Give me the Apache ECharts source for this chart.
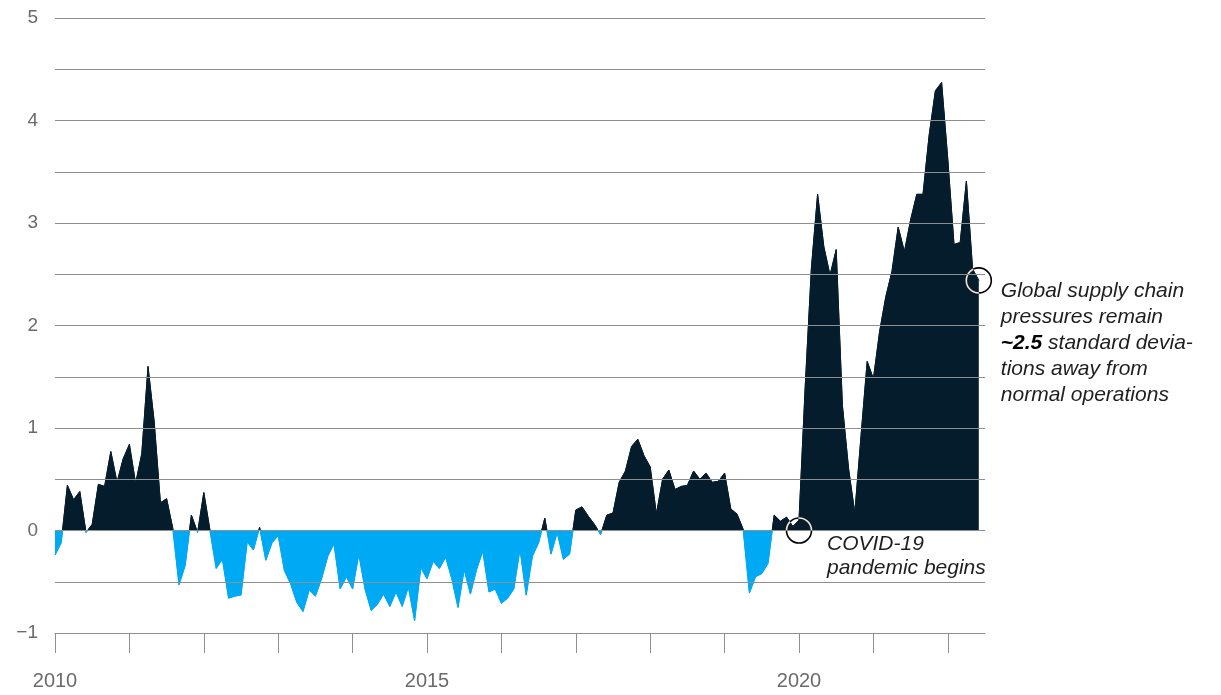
<!DOCTYPE html>
<html>
<head>
<meta charset="utf-8">
<script src="https://cdn.jsdelivr.net/npm/echarts@6/dist/echarts.min.js"></script>
<style>
  html, body { margin: 0; padding: 0; background: #fff; }
  #chart { width: 1221px; height: 695px; }
</style>
</head>
<body>
<div id="chart"></div>
<script>
// Global supply chain pressure index, monthly, standard deviations from average
const startYear = 2010;
const gscpi2010 = [-0.24, -0.12, 0.44, 0.30, 0.38, -0.02, 0.06, 0.45, 0.43, 0.77, 0.47, 0.70];
const gscpi2011 = [0.84, 0.46, 0.75, 1.60, 1.06, 0.27, 0.31, 0.02, -0.53, -0.34, 0.15, -0.02];
const gscpi2012 = [0.37, 0.00, -0.37, -0.28, -0.66, -0.64, -0.63, -0.11, -0.19, 0.03, -0.29, -0.12];
const gscpi2013 = [-0.05, -0.39, -0.52, -0.70, -0.79, -0.58, -0.64, -0.47, -0.25, -0.13, -0.57, -0.45];
const gscpi2014 = [-0.57, -0.23, -0.57, -0.78, -0.72, -0.62, -0.74, -0.60, -0.74, -0.55, -0.88, -0.36];
const gscpi2015 = [-0.47, -0.30, -0.37, -0.26, -0.47, -0.75, -0.38, -0.62, -0.38, -0.20, -0.60, -0.57];
const gscpi2016 = [-0.71, -0.66, -0.57, -0.18, -0.63, -0.25, -0.12, 0.12, -0.23, -0.02, -0.28, -0.23];
const gscpi2017 = [0.20, 0.23, 0.14, 0.06, -0.04, 0.15, 0.17, 0.47, 0.58, 0.82, 0.89, 0.73];
const gscpi2018 = [0.62, 0.16, 0.50, 0.59, 0.40, 0.43, 0.44, 0.58, 0.50, 0.56, 0.47, 0.48];
const gscpi2019 = [0.56, 0.21, 0.16, 0.01, -0.61, -0.45, -0.42, -0.32, 0.15, 0.09, 0.13, 0.04];
const gscpi2020 = [0.10, 1.40, 2.56, 3.28, 2.77, 2.49, 2.74, 1.22, 0.60, 0.17, 0.92, 1.65];
const gscpi2021 = [1.48, 1.94, 2.28, 2.53, 2.96, 2.72, 3.03, 3.28, 3.28, 3.86, 4.29, 4.37];
const gscpi2022 = [3.62, 2.79, 2.81, 3.41, 2.55, 2.44];

const yearLabels = ['2010', '2015', '2020'];
const yLabelValues = [-1, 0, 1, 2, 3, 4, 5];

const monthly = [].concat(
  gscpi2010, gscpi2011, gscpi2012, gscpi2013, gscpi2014, gscpi2015, gscpi2016,
  gscpi2017, gscpi2018, gscpi2019, gscpi2020, gscpi2021, gscpi2022
);
const points = monthly.map((v, i) => [i, v]);

// annotated months: Jan 2020 (pandemic start) and the latest reading
const covidMonth = (2020 - startYear) * 12;
const latestMonth = monthly.length - 1;

const DARK = '#051c2c';
const CYAN = '#00a9f4';
const GRID_GRAY = '#8f8f8f';
const LABEL_GRAY = '#6b6b6b';
const FONT = '"Liberation Sans", Arial, sans-serif';

const Y_MIN = -1, Y_MAX = 5, Y_STEP = 0.5;

const yearTicks = [];
for (let m = 0; m <= latestMonth; m += 12) yearTicks.push(m);
const yearLabelTicks = yearLabels.map(y => (Number(y) - startYear) * 12);

// horizontal rules at every half step, drawn above the filled areas
const ruleLines = [];
for (let v = Y_MIN; v <= Y_MAX + 1e-9; v += Y_STEP) ruleLines.push({ yAxis: +v.toFixed(2) });

const chart = echarts.init(document.getElementById('chart'), null, { renderer: 'canvas' });

chart.setOption({
  backgroundColor: '#ffffff',
  animation: false,
  grid: { left: 55, right: 236, top: 18, bottom: 62, containLabel: false },
  xAxis: {
    type: 'value',
    min: 0,
    max: 150,
    interval: 12,
    axisLine: { show: true, onZero: false, lineStyle: { color: GRID_GRAY, width: 1 } },
    axisTick: {
      show: true, length: 20, inside: false,
      customValues: yearTicks,
      lineStyle: { color: GRID_GRAY, width: 1 }
    },
    axisLabel: {
      customValues: yearLabelTicks,
      formatter: v => String(startYear + Math.round(v / 12)),
      margin: 38,
      color: LABEL_GRAY,
      fontFamily: FONT,
      fontSize: 20
    },
    splitLine: { show: false }
  },
  yAxis: {
    type: 'value',
    min: Y_MIN,
    max: Y_MAX,
    interval: Y_STEP,
    axisLine: { show: false },
    axisTick: { show: false },
    axisLabel: {
      customValues: yLabelValues,
      formatter: v => (v < 0 ? '\u2212' + Math.abs(v) : String(v)),
      margin: 17,
      color: LABEL_GRAY,
      fontFamily: FONT,
      fontSize: 19
    },
    splitLine: { show: false }
  },
  visualMap: {
    type: 'piecewise',
    show: false,
    dimension: 1,
    seriesIndex: 0,
    pieces: [
      { gte: -1, lt: 0, color: CYAN },
      { gte: 0, lte: 5, color: DARK }
    ],
    outOfRange: { color: DARK }
  },
  series: [
    {
      type: 'line',
      data: points,
      showSymbol: false,
      smooth: false,
      lineStyle: { width: 1 },
      areaStyle: { opacity: 1, origin: 0 },
      z: 3
    },
    {
      // rules live on their own layer so they cross the filled areas
      type: 'line',
      data: [],
      silent: true,
      zlevel: 1,
      z: 6,
      markLine: {
        silent: true,
        symbol: ['none', 'none'],
        label: { show: false },
        lineStyle: { color: GRID_GRAY, width: 1, type: 'solid', opacity: 1 },
        emphasis: { disabled: true },
        data: ruleLines
      }
    }
  ]
});

// ring markers and notes, positioned through the chart's own scales
const covidPx = chart.convertToPixel({ gridIndex: 0 }, [covidMonth, 0]);
const latestPx = chart.convertToPixel({ gridIndex: 0 }, [latestMonth, monthly[latestMonth]]);

const ring = (p) => ({
  type: 'circle',
  z: 100,
  shape: { cx: p[0], cy: p[1], r: 12.5 },
  style: { fill: 'none', stroke: '#ffffff', lineWidth: 1.6, blend: 'difference' }
});

const noteStyle = {
  fill: '#1e1e1e',
  fontFamily: FONT,
  fontStyle: 'italic',
  fontSize: 21,
  lineHeight: 24
};

chart.setOption({
  graphic: [
    ring(covidPx),
    ring(latestPx),
    {
      type: 'text',
      z: 100,
      x: covidPx[0] + 28,
      y: covidPx[1] + 2,
      style: Object.assign({}, noteStyle, {
        text: 'COVID-19\npandemic begins',
        verticalAlign: 'top',
        align: 'left'
      })
    },
    {
      type: 'text',
      z: 100,
      x: latestPx[0] + 22,
      y: latestPx[1] - 2,
      style: Object.assign({}, noteStyle, {
        lineHeight: 26,
        text: 'Global supply chain\npressures remain\n{b|~2.5} standard devia-\ntions away from\nnormal operations',
        verticalAlign: 'top',
        align: 'left',
        rich: {
          b: {
            fontFamily: FONT,
            fontStyle: 'italic',
            fontWeight: 'bold',
            fontSize: 21,
            lineHeight: 26,
            fill: '#000000'
          }
        }
      })
    }
  ]
});
</script>
</body>
</html>
